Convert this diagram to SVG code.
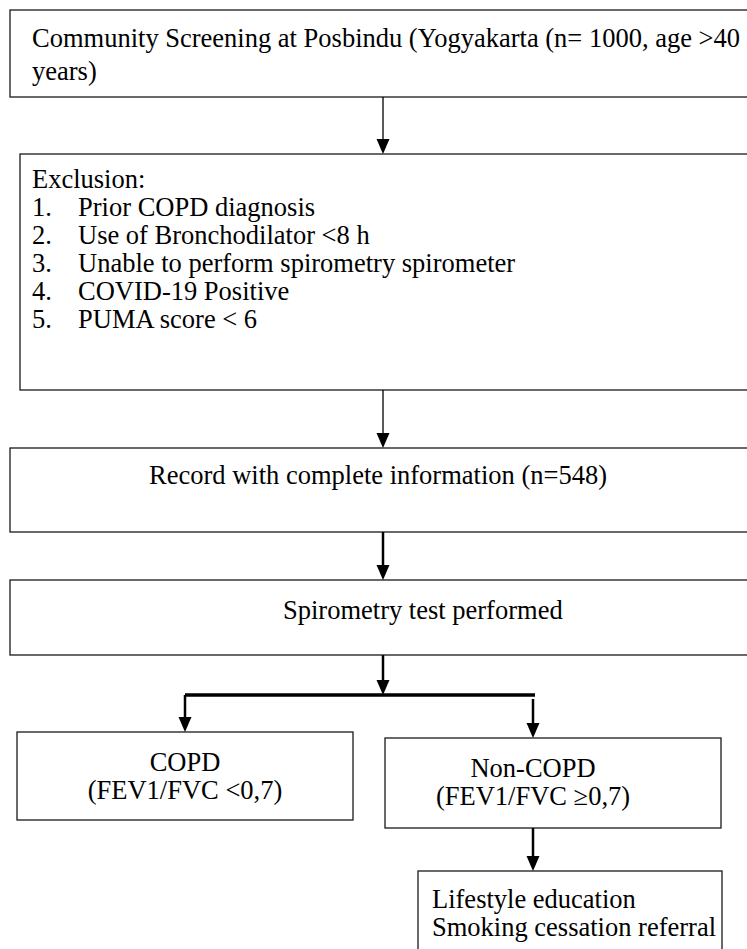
<svg xmlns="http://www.w3.org/2000/svg" width="747" height="949" viewBox="0 0 747 949">
<style>
.box{fill:#fff;stroke:#1a1a1a;stroke-width:1.3}
.t{font-family:"Liberation Serif","Times New Roman",serif;font-size:26.5px;fill:#000}
.c{text-anchor:middle}
.thin{stroke:#000;stroke-width:1.3;fill:none}
.thick{stroke:#000;stroke-width:2.5;fill:none}
.head{fill:#000}
</style>
<rect width="747" height="949" fill="#fff"/>
<g id="n1">
<rect class="box" x="10" y="10" width="740" height="87"/>
<text class="t" x="32" y="47">Community Screening at Posbindu (Yogyakarta (n= 1000, age &gt;40</text>
<text class="t" x="32" y="80">years)</text>
</g>
<g id="n2">
<rect class="box" x="20" y="154" width="730" height="236"/>
<text class="t" x="32" y="188">Exclusion:</text>
<text class="t" x="32" y="216">1.</text><text class="t" x="78" y="216">Prior COPD diagnosis</text>
<text class="t" x="32" y="244">2.</text><text class="t" x="78" y="244">Use of Bronchodilator &lt;8 h</text>
<text class="t" x="32" y="272">3.</text><text class="t" x="78" y="272">Unable to perform spirometry spirometer</text>
<text class="t" x="32" y="300">4.</text><text class="t" x="78" y="300">COVID-19 Positive</text>
<text class="t" x="32" y="328">5.</text><text class="t" x="78" y="328">PUMA score &lt; 6</text>
</g>
<g id="n3">
<rect class="box" x="10" y="448" width="740" height="84"/>
<text class="t c" x="378" y="484">Record with complete information (n=548)</text>
</g>
<g id="n4">
<rect class="box" x="10" y="580" width="740" height="75"/>
<text class="t" x="283" y="619">Spirometry test performed</text>
</g>
<g id="n5">
<rect class="box" x="17" y="732" width="336" height="88"/>
<text class="t c" x="185" y="771">COPD</text>
<text class="t c" x="185" y="799">(FEV1/FVC &lt;0,7)</text>
</g>
<g id="n6">
<rect class="box" x="385" y="738" width="336" height="90"/>
<text class="t c" x="533" y="777">Non-COPD</text>
<text class="t c" x="533" y="805">(FEV1/FVC ≥0,7)</text>
</g>
<g id="n7">
<rect class="box" x="418" y="871" width="304" height="90"/>
<text class="t" x="432" y="908">Lifestyle education</text>
<text class="t" x="432" y="936">Smoking cessation referral</text>
</g>
<g id="connectors">
<line class="thin" x1="383" y1="97" x2="383" y2="139"/>
<polygon class="head" points="376.5,139 389.5,139 383,154"/>
<line class="thin" x1="383" y1="390" x2="383" y2="433"/>
<polygon class="head" points="376.5,433 389.5,433 383,448"/>
<line class="thick" x1="383" y1="532" x2="383" y2="565"/>
<polygon class="head" points="376.5,565 389.5,565 383,580"/>
<line class="thick" x1="383" y1="655" x2="383" y2="680"/>
<polygon class="head" points="376.5,680 389.5,680 383,695"/>
<line x1="185" y1="695" x2="535" y2="695" stroke="#000" stroke-width="3.5"/>
<line class="thick" x1="185" y1="695" x2="185" y2="717"/>
<polygon class="head" points="178.5,717 191.5,717 185,732"/>
<line class="thick" x1="533" y1="699" x2="533" y2="723"/>
<polygon class="head" points="526.5,723 539.5,723 533,738"/>
<line class="thick" x1="533" y1="828" x2="533" y2="856"/>
<polygon class="head" points="526.5,856 539.5,856 533,871"/>
</g>
</svg>
